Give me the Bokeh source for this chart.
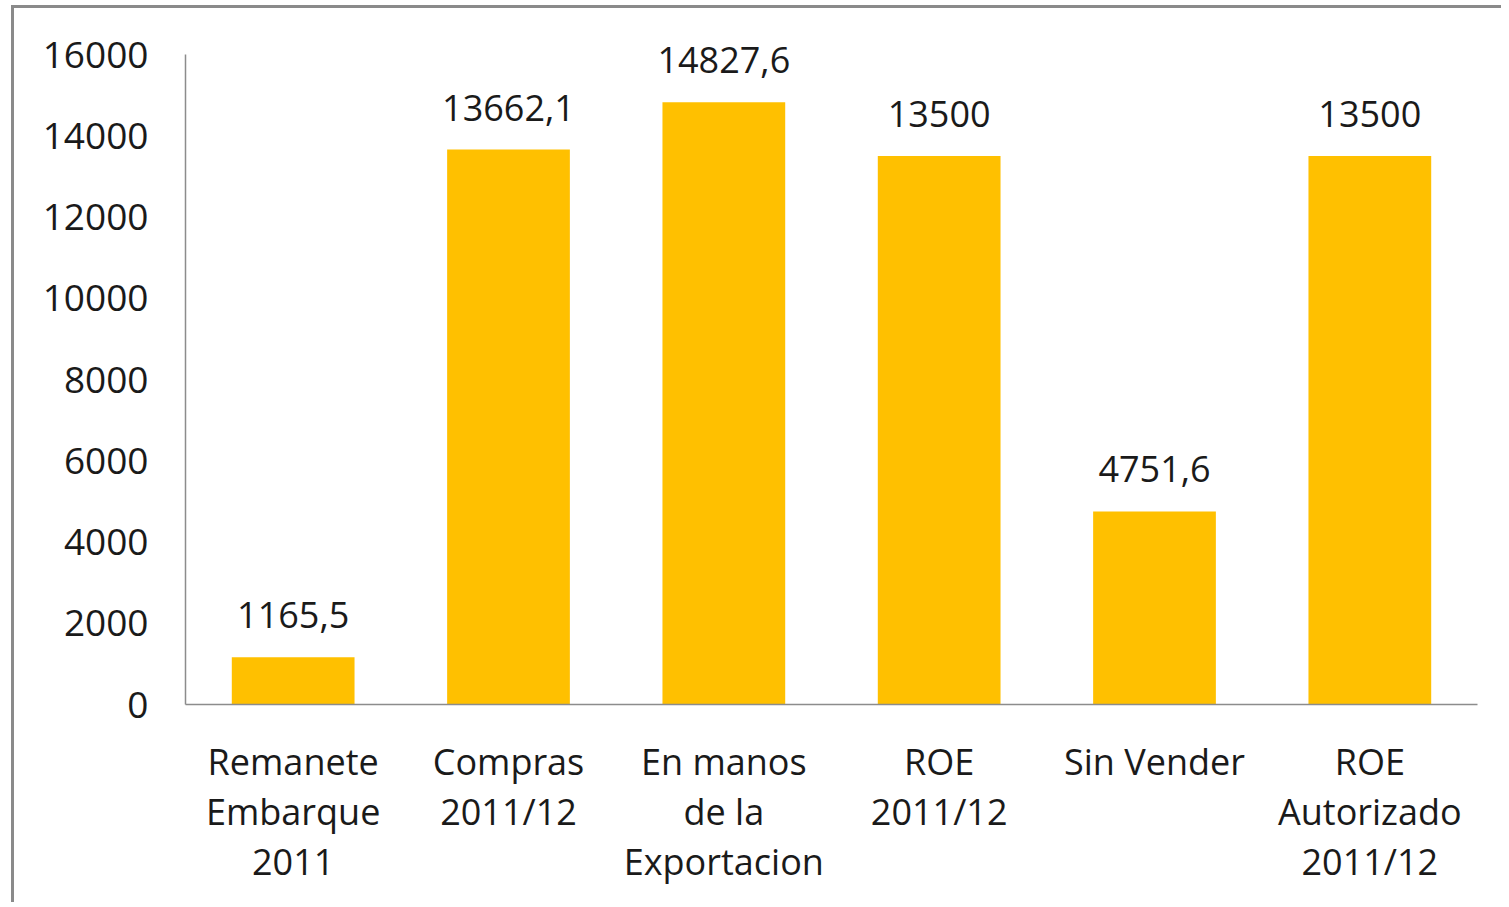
from bokeh.plotting import figure
from bokeh.models import ColumnDataSource, LabelSet, FactorRange, SingleIntervalTicker
from bokeh.core.properties import value
from bokeh.embed import file_html
from bokeh.resources import INLINE

categories = ["Remanete\nEmbarque\n2011", "Compras\n2011/12", "En manos\nde la\nExportacion",
              "ROE\n2011/12", "Sin Vender", "ROE\nAutorizado\n2011/12"]
values = [1165.5, 13662.1, 14827.6, 13500, 4751.6, 13500]
value_labels = [f"{v:g}".replace(".", ",") for v in values]
y_ticks_max = 16000

FONT = "Open Sans"
TXT = "#1a1a1a"
AX = "#8c8c8c"

src = ColumnDataSource(dict(cat=categories, val=values, lab=value_labels))

p = figure(width=1490, height=897, output_backend="svg", toolbar_location=None,
           x_range=FactorRange(*categories, range_padding=0), y_range=(0, 16838),
           min_border_left=171, min_border_top=12, min_border_right=27, min_border_bottom=201)
p.styles = {"border-left": "3px solid #8a8a8a", "border-top": "3px solid #8a8a8a",
            "margin-left": "11px", "margin-top": "5px"}

p.vbar(x="cat", top="val", width=0.57, source=src, fill_color="#FFC000", line_color=None)

labels = LabelSet(x="cat", y="val", text="lab", source=src, text_align="center",
                  text_baseline="alphabetic", y_offset=29, text_font=value(FONT),
                  text_font_size="36px", text_color=TXT)
p.add_layout(labels)

p.outline_line_color = None
p.xgrid.grid_line_color = None
p.ygrid.grid_line_color = None
p.background_fill_color = "white"
p.border_fill_color = "white"

p.yaxis.ticker = SingleIntervalTicker(interval=2000)
p.yaxis.bounds = (0, y_ticks_max)
p.yaxis.axis_line_color = AX
p.yaxis.axis_line_width = 1.5
p.yaxis.major_tick_line_color = None
p.yaxis.minor_tick_line_color = None
p.yaxis.major_tick_in = 0
p.yaxis.major_tick_out = 0
p.yaxis.major_label_standoff = 33
p.yaxis.major_label_text_font = FONT
p.yaxis.major_label_text_font_size = "37px"
p.yaxis.major_label_text_color = TXT

p.xaxis.axis_line_color = AX
p.xaxis.axis_line_width = 1.5
p.xaxis.major_tick_line_color = None
p.xaxis.major_tick_in = 0
p.xaxis.major_tick_out = 0
p.xaxis.major_label_standoff = 32
p.xaxis.major_label_text_font = FONT
p.xaxis.major_label_text_font_size = "36px"
p.xaxis.major_label_text_color = TXT
p.xaxis.major_label_text_line_height = 1.03

open("out.html", "w").write(file_html(p, INLINE))
